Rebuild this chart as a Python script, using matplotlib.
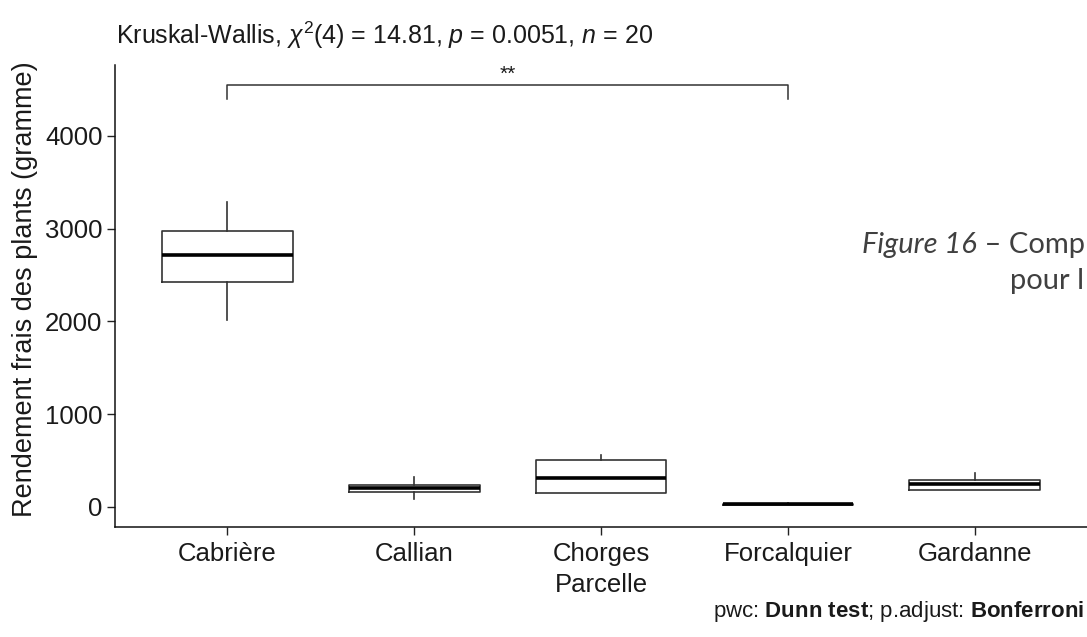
import matplotlib
matplotlib.use("Agg")
import matplotlib.pyplot as plt

plt.rcParams['font.family'] = ['Liberation Sans', 'DejaVu Sans']
plt.rcParams['mathtext.fontset'] = 'custom'
plt.rcParams['mathtext.rm'] = 'Liberation Sans'
plt.rcParams['mathtext.it'] = 'Liberation Sans:italic'
plt.rcParams['mathtext.bf'] = 'Liberation Sans:bold'

categories = ["Cabrière", "Callian", "Chorges", "Forcalquier", "Gardanne"]
whisker_low = [2010, 85, 148, 25, 180]
q1 = [2425, 160, 148, 25, 180]
median = [2715, 207, 313, 30, 245]
q3 = [2975, 234, 504, 35, 288]
whisker_high = [3285, 320, 558, 40, 367]

y_ticks = [0, 1000, 2000, 3000, 4000]
bracket_from, bracket_to, bracket_y, bracket_label = 1, 4, 4550, "**"

fig = plt.figure(figsize=(10.87, 6.37), dpi=100)
ax = fig.add_axes([0.1058, 0.1727, 0.8942, 0.7253])

stats = []
for i, c in enumerate(categories):
    stats.append(dict(label=c, whislo=whisker_low[i], q1=q1[i], med=median[i],
                      q3=q3[i], whishi=whisker_high[i], fliers=[]))
positions = list(range(1, len(categories) + 1))
ax.bxp(stats, positions=positions, widths=0.7, showfliers=False, showcaps=False,
       boxprops=dict(color='#333333', linewidth=1.2),
       whiskerprops=dict(color='#333333', linewidth=1.2),
       medianprops=dict(color='black', linewidth=2.6),
       patch_artist=False)

ax.set_xlim(0.4, 5.6)
ax.set_ylim(-216, 4763)
ax.set_yticks(y_ticks)
ax.set_yticklabels([str(t) for t in y_ticks])
ax.set_xticks(positions)
ax.set_xticklabels(categories)
ax.tick_params(axis='both', labelsize=18.5, colors='#222222', length=6, width=1.0, labelcolor='#1a1a1a')
ax.tick_params(axis='x', pad=5)
ax.tick_params(axis='y', pad=3)
for s in ['top', 'right']:
    ax.spines[s].set_visible(False)
for s in ['left', 'bottom']:
    ax.spines[s].set_linewidth(1.1)
    ax.spines[s].set_color('#111111')

ax.set_ylabel("Rendement frais des plants (gramme)", fontsize=19.5, color='#1a1a1a')
ax.yaxis.set_label_coords(-0.079, 0.515)
ax.set_xlabel("Parcelle", fontsize=18.5, color='#1a1a1a', labelpad=5)

# significance bracket
tip = 150
ax.plot([bracket_from, bracket_from, bracket_to, bracket_to],
        [bracket_y - tip, bracket_y, bracket_y, bracket_y - tip],
        color='#333333', linewidth=1.1, clip_on=False)
ax.text((bracket_from + bracket_to) / 2, bracket_y + 10, bracket_label,
        ha='center', va='bottom', fontsize=15, color='#1a1a1a')

fig.text(116 / 1087, 1 - 35 / 637,
         r"Kruskal-Wallis, $\chi^2$(4) = 14.81, $p$ = 0.0051, $n$ = 20",
         ha='left', va='center', fontsize=18, color='#1a1a1a')

fig.text(1 - 3 / 1087, 1 - 611 / 637,
         r"pwc: $\mathbf{Dunn\ test}$; p.adjust: $\mathbf{Bonferroni}$",
         ha='right', va='center', fontsize=16, color='#1a1a1a')

t1 = fig.text(862 / 1087, 1 - 245 / 637, "Figure 16",
              ha='left', va='center', fontsize=21, color='#404040',
              family='Lato', style='italic')
fig.canvas.draw()
ax.annotate(" – Comp", xy=(1, 0), xycoords=t1, ha='left', va='bottom',
            fontsize=21, color='#404040', family='Lato', annotation_clip=False)
fig.text(1010 / 1087, 1 - 281 / 637, "pour l",
         ha='left', va='center', fontsize=21, color='#404040', family='Lato')

fig.savefig("out.png", dpi=100)
